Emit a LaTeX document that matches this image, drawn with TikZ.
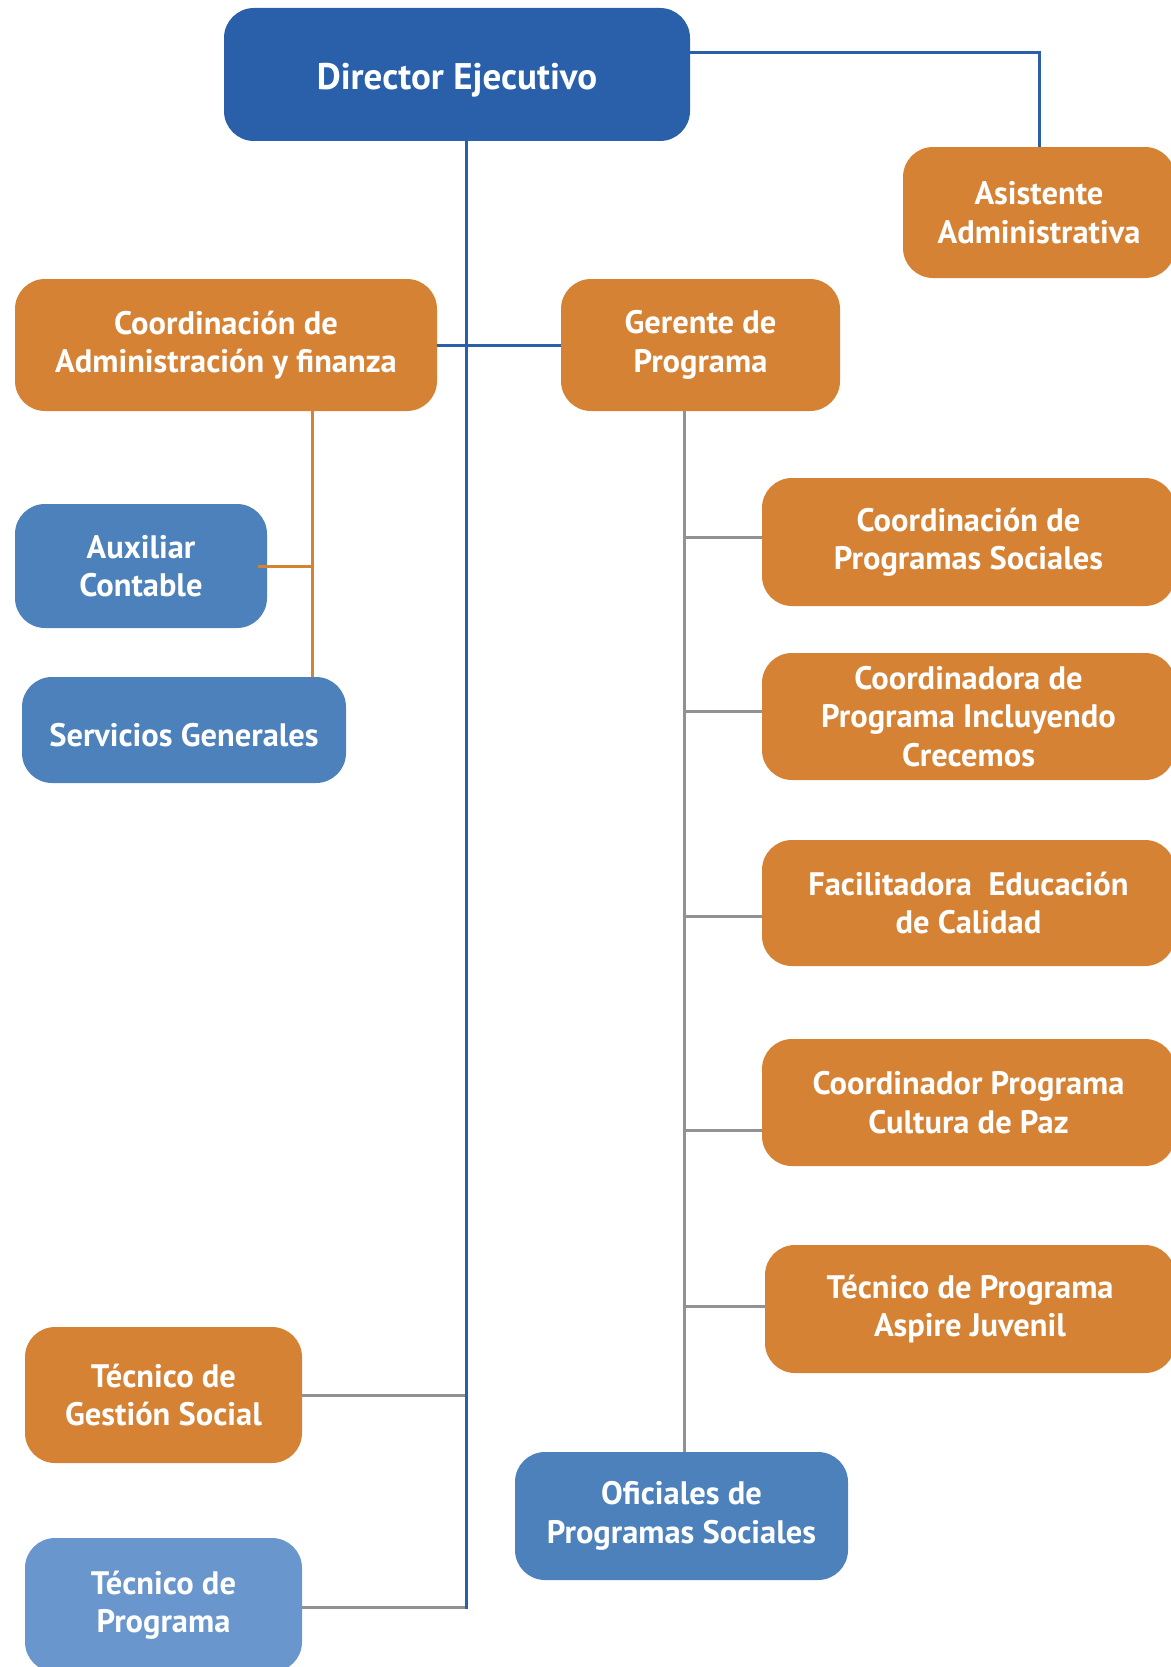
\documentclass[tikz,border=0pt]{standalone}
\usepackage{fontspec}
\setmainfont{PT Sans}
\definecolor{dirblue}{HTML}{2A5FAA}
\definecolor{orng}{HTML}{D68235}
\definecolor{mblue}{HTML}{4D81BB}
\definecolor{lblue}{HTML}{6997CD}
\definecolor{lgray}{HTML}{919196}
\tikzset{
  box/.style={rounded corners=30pt, text=white, align=center, inner sep=0pt,
    font=\fontsize{32.5}{38.5}\selectfont\bfseries},
  dirbox/.style={box, fill=dirblue, font=\fontsize{37}{44}\selectfont\bfseries},
  obox/.style={box, fill=orng},
  bbox/.style={box, fill=mblue},
  lbox/.style={box, fill=lblue},
  bl/.style={draw=dirblue, line width=3pt},
  gr/.style={draw=lgray, line width=3pt},
  orl/.style={draw=orng, line width=3pt},
}
\begin{document}
\begin{tikzpicture}[x=1pt,y=-1pt]
\useasboundingbox (0,0) rectangle (1170,1667);
% nodes
\node[dirbox, minimum width=466pt, minimum height=133pt, text height=38pt, text depth=7.5pt] (dir) at (457,74.5) {Director Ejecutivo};
\node[obox, minimum width=272pt, minimum height=131pt] (asis) at (1039,212.5) {Asistente\\Administrativa};
\node[obox, minimum width=422pt, minimum height=132pt] (ca) at (226,345) {Coordinación de\\Administración y finanza};
\node[obox, minimum width=279pt, minimum height=132pt] (ger) at (700.5,345) {Gerente de\\Programa};
\node[bbox, minimum width=252pt, minimum height=124pt] (aux) at (141,566) {Auxiliar\\Contable};
\node[bbox, minimum width=324pt, minimum height=106pt, text height=32pt, text depth=0pt] (serv) at (184,730) {Servicios Generales};
\node[obox, minimum width=413pt, minimum height=128pt] (cps) at (968.5,542) {Coordinación de\\Programas Sociales};
\node[obox, minimum width=413pt, minimum height=127pt] (cic) at (968.5,716.5) {Coordinadora de\\Programa Incluyendo\\Crecemos};
\node[obox, minimum width=413pt, minimum height=126pt] (fac) at (968.5,903) {Facilitadora\ \ Educación\\de Calidad};
\node[obox, minimum width=413pt, minimum height=127pt] (cult) at (968.5,1102.5) {Coordinador Programa\\Cultura de Paz};
\node[obox, minimum width=410pt, minimum height=128pt] (asp) at (970,1309) {Técnico de Programa\\Aspire Juvenil};
\node[bbox, minimum width=333pt, minimum height=128pt] (ofi) at (681.5,1516) {Oficiales de\\Programas Sociales};
\node[obox, minimum width=277pt, minimum height=136pt] (tgs) at (163.5,1395) {Técnico de\\Gestión Social};
\node[lbox, minimum width=277pt, minimum height=134pt] (tp) at (163.5,1605) {Técnico de\\Programa};
% helper coordinates
\coordinate (spine) at ([xshift=9pt]dir.south);
\coordinate (gspine) at ([xshift=-16.5pt]ger.south);
\coordinate (ospine) at ([xshift=86pt]ca.south);
% connectors
\draw[bl] ([yshift=21.5pt]dir.east) -| (asis.north);
\draw[bl] (ca.east) -- (ger.west);
\draw[gr] (tgs.east) -- (tgs.east -| spine);
\draw[gr] ([yshift=-2pt]tp.east) -- ([yshift=-2pt]tp.east -| spine);
\draw[bl] (spine) -- ([yshift=-3.5pt]tp.east -| spine);
\draw[orl] (ospine) -- (ospine |- serv.north);
\draw[orl] ([xshift=-9pt]aux.east) -- (aux.east -| ospine);
\draw[gr] (gspine) -- (gspine |- ofi.north);
\draw[gr] ([yshift=5pt]cps.west) -- ([yshift=5pt]cps.west -| gspine);
\draw[gr] ([yshift=5.5pt]cic.west) -- ([yshift=5.5pt]cic.west -| gspine);
\draw[gr] ([yshift=-13pt]fac.west) -- ([yshift=-13pt]fac.west -| gspine);
\draw[gr] ([yshift=-27.5pt]cult.west) -- ([yshift=-27.5pt]cult.west -| gspine);
\draw[gr] ([yshift=3pt]asp.west) -- ([yshift=3pt]asp.west -| gspine);
\end{tikzpicture}
\end{document}
